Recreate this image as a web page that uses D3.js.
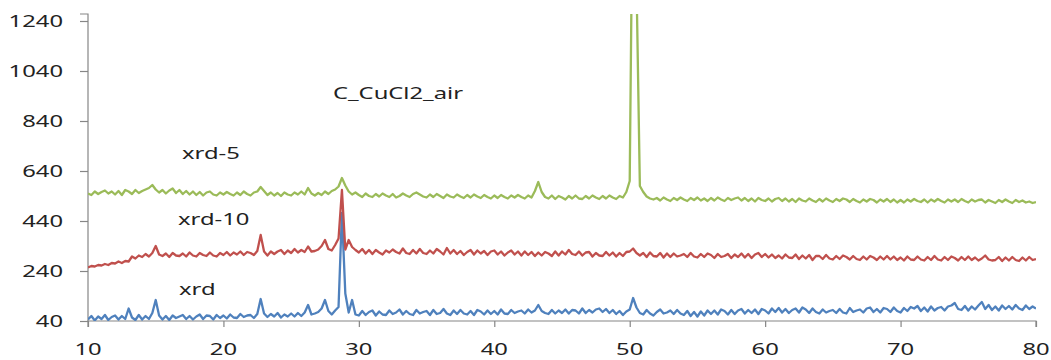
<!DOCTYPE html>
<html>
<head>
<meta charset="utf-8">
<script src="https://d3js.org/d3.v7.min.js"></script>
<style>
  body { margin: 0; background: #fff; overflow: hidden; }
  text { font-family: "Noto Sans", sans-serif; fill: #222; }
</style>
</head>
<body>
<svg id="chart" width="1051" height="360"></svg>
<script>
// 2-theta from 10 to 80, step 0.25 (4 points per degree)
const xStart = 10, xStep = 0.25;

const xrd = [
  46, 60, 42, 58,   48, 64, 44, 56,   62, 46, 60, 48,   90, 54, 44, 64,   46, 60, 48, 72,
  124, 62, 46, 60,  44, 62, 52, 58,   64, 48, 60, 46,   58, 66, 48, 62,   60, 46, 64, 52,
  62, 50, 66, 54,   52, 68, 56, 62,   64, 52, 68, 128,  70, 56, 68, 58,   72, 54, 66, 58,
  70, 58, 72, 60,   74, 104, 66, 70,  76, 90, 124, 80,  66, 82, 96, 472,  150, 74, 124, 66,
  62, 80, 64, 76,   82, 62, 78, 66,   64, 82, 68, 74,   86, 66, 80, 68,   64, 84, 70, 76,
  80, 64, 84, 68,   72, 88, 70, 64,   82, 68, 84, 70,   66, 80, 64, 84,   78, 66, 82, 68,
  80, 66, 86, 70,   68, 84, 72, 78,   82, 70, 86, 74,   82, 104, 80, 72,  68, 84, 70, 82,
  72, 86, 70, 84,   82, 70, 90, 72,   84, 74, 86, 90,   76, 88, 72, 84,   68, 80, 64, 78,
  86, 132, 94, 72,  66, 84, 70, 62,   76, 86, 70, 74,   82, 68, 84, 70,   64, 80, 60, 76,
  58, 78, 62, 82,   68, 82, 66, 86,   80, 66, 84, 68,   82, 88, 70, 84,   72, 86, 68, 88,
  82, 70, 90, 76,   92, 74, 88, 72,   84, 90, 74, 94,   86, 72, 90, 76,   70, 86, 74, 80,
  84, 72, 88, 74,   70, 92, 76, 82,   86, 74, 90, 94,   76, 88, 74, 92,   88, 76, 94, 80,
  74, 92, 80, 96,   90, 100, 80, 94,  78, 98, 82, 92,   96, 82, 98, 102,  112, 88, 84, 100,
  82, 98, 86, 102,  116, 88, 104, 84, 98, 82, 102, 88,  100, 86, 104, 90, 84, 102, 88, 98,
  90
];

const xrd10 = [
  254, 260, 258, 264,  262, 268, 264, 272,  270, 278, 272, 280,  278, 298, 290, 302,  296, 308, 298, 312,
  340, 306, 300, 310,  296, 312, 302, 300,  310, 298, 314, 302,  298, 312, 304, 300,  314, 302, 298, 312,
  304, 316, 302, 314,  306, 318, 304, 316,  312, 304, 320, 384,  318, 302, 318, 308,  318, 324, 308, 322,
  312, 328, 314, 324,  316, 338, 318, 320,  326, 340, 364, 328,  322, 344, 370, 564,  326, 364, 336, 324,
  314, 328, 310, 324,  308, 324, 314, 306,  322, 314, 326, 316,  310, 330, 312, 308,  324, 310, 328, 312,
  308, 322, 310, 328,  318, 306, 332, 310,  324, 308, 320, 304,  316, 324, 306, 322,  310, 320, 304, 318,
  322, 306, 318, 302,  314, 322, 306, 318,  302, 318, 304, 316,  300, 314, 302, 316,  310, 300, 318, 302,
  318, 306, 324, 308,  304, 318, 302, 314,  316, 298, 312, 302,  300, 316, 302, 314,  298, 312, 300, 316,
  318, 330, 312, 302,  312, 296, 314, 300,  298, 312, 294, 310,  296, 310, 298, 302,  308, 296, 312, 298,
  294, 308, 296, 310,  304, 292, 308, 296,  300, 308, 292, 306,  296, 310, 294, 308,  292, 306, 312, 296,
  308, 294, 306, 292,  302, 290, 306, 294,  292, 306, 288, 302,  290, 304, 284, 300,  300, 288, 304, 290,
  286, 300, 288, 302,  296, 286, 300, 288,  284, 298, 286, 300,  294, 284, 298, 286,  300, 286, 298, 284,
  294, 282, 298, 286,  284, 298, 286, 282,  296, 284, 300, 286,  282, 296, 284, 298,  292, 282, 296, 284,
  298, 284, 294, 282,  290, 302, 286, 282,  284, 296, 280, 294,  282, 296, 284, 280,  294, 282, 296, 284,
  288
];

const xrd5 = [
  550, 544, 558, 548,  556, 562, 550, 558,  546, 560, 544, 564,  558, 548, 564, 552,  560, 566, 572, 584,
  566, 554, 564, 550,  562, 570, 552, 564,  548, 560, 546, 558,  544, 556, 542, 554,  558, 546, 542, 554,
  546, 556, 548, 542,  554, 544, 558, 548,  542, 554, 558, 576,  560, 544, 554, 542,  552, 540, 554, 546,
  542, 554, 546, 558,  546, 572, 550, 542,  552, 544, 558, 548,  560, 566, 578, 612,  582, 558, 546, 554,
  544, 536, 550, 540,  536, 548, 538, 550,  542, 536, 548, 534,  540, 550, 542, 536,  548, 554, 546, 538,
  534, 546, 536, 548,  540, 532, 546, 538,  534, 546, 538, 532,  544, 534, 546, 538,  532, 544, 536, 530,
  542, 532, 544, 536,  530, 542, 534, 544,  536, 530, 542, 534,  560, 596, 556, 536,  530, 542, 528, 540,
  534, 526, 540, 530,  542, 530, 528, 540,  530, 542, 534, 528,  540, 530, 542, 534,  528, 540, 534, 556,
  600, 2000, 1400, 580, 556, 538, 530, 526, 532, 522, 534, 526, 520, 532, 524, 534,  526, 520, 532, 524,
  534, 522, 530, 520,  532, 522, 534, 526,  520, 532, 524, 530,  534, 522, 532, 520,  530, 518, 532, 524,
  520, 530, 518, 528,  532, 520, 530, 518,  528, 516, 530, 522,  518, 530, 522, 516,  528, 518, 530, 522,
  516, 528, 520, 530,  526, 516, 528, 520,  514, 526, 518, 528,  524, 514, 526, 518,  528, 516, 526, 514,
  524, 514, 526, 518,  528, 520, 516, 526,  514, 526, 518, 528,  520, 514, 526, 518,  526, 516, 528, 520,
  514, 526, 518, 524,  526, 514, 524, 518,  512, 524, 516, 526,  518, 512, 524, 516,  522, 514, 518, 512,
  516
];

const yTicks = [40, 240, 440, 640, 840, 1040, 1240];
const xTicks = [10, 20, 30, 40, 50, 60, 70, 80];
const seriesNames = ["xrd", "xrd-10", "xrd-5"];
const seriesColors = ["#4F81BD", "#C0504D", "#9BBB59"];
const title = "C_CuCl2_air";

const svg = d3.select("#chart");
const pLeft = 88, pRight = 1036, pTop = 14, pBottom = 321;

const x = d3.scaleLinear().domain([10, 80]).range([pLeft, pRight]);
const y = d3.scaleLinear().domain([40, 1268]).range([pBottom, pTop]);

svg.append("defs").append("clipPath").attr("id", "plot")
  .append("rect").attr("x", pLeft).attr("y", pTop)
  .attr("width", pRight - pLeft).attr("height", pBottom - pTop);

const sx = 1.4; // stretched text, like the original picture
function stretched(g, tx, ty) {
  return g.append("g").attr("transform", `translate(${tx},${ty}) scale(${sx},1)`);
}

// axes
const yAxis = svg.append("g").attr("transform", `translate(${pLeft},0)`)
  .call(d3.axisLeft(y).tickValues(yTicks).tickSize(8).tickFormat(""));
const xAxis = svg.append("g").attr("transform", `translate(0,${pBottom})`)
  .call(d3.axisBottom(x).tickValues(xTicks).tickSize(6).tickFormat(""));
[yAxis, xAxis].forEach(a => {
  a.select(".domain").attr("stroke", "#868686").attr("stroke-width", 1.2);
  a.selectAll(".tick line").attr("stroke", "#868686").attr("stroke-width", 1.2);
});
yAxis.select(".domain").attr("d", `M-8,${pTop}H0V${pBottom}`);
xAxis.select(".domain").attr("d", `M${pLeft},6V0H${pRight}V6`);

yTicks.forEach(v => {
  stretched(svg, 63, y(v) + 6).append("text")
    .attr("text-anchor", "end").attr("font-size", 17).text(v);
});
xTicks.forEach(v => {
  stretched(svg, x(v), 355).append("text")
    .attr("text-anchor", "middle").attr("font-size", 17).text(v);
});

// lines
const line = d3.line()
  .x((d, i) => x(xStart + i * xStep))
  .y(d => y(d));

const plot = svg.append("g").attr("clip-path", "url(#plot)");
[xrd, xrd10, xrd5].forEach((s, k) => {
  plot.append("path").datum(s)
    .attr("fill", "none")
    .attr("stroke", seriesColors[k])
    .attr("stroke-width", 2.3)
    .attr("stroke-linejoin", "round")
    .attr("d", line);
});

// labels
const labels = [
  { t: seriesNames[0], x: 179, y: 295 },
  { t: seriesNames[1], x: 178, y: 225 },
  { t: seriesNames[2], x: 182, y: 159 },
  { t: title, x: 333, y: 99 }
];
labels.forEach(l => {
  stretched(svg, l.x, l.y).append("text").attr("font-size", 17).text(l.t);
});
</script>
</body>
</html>
